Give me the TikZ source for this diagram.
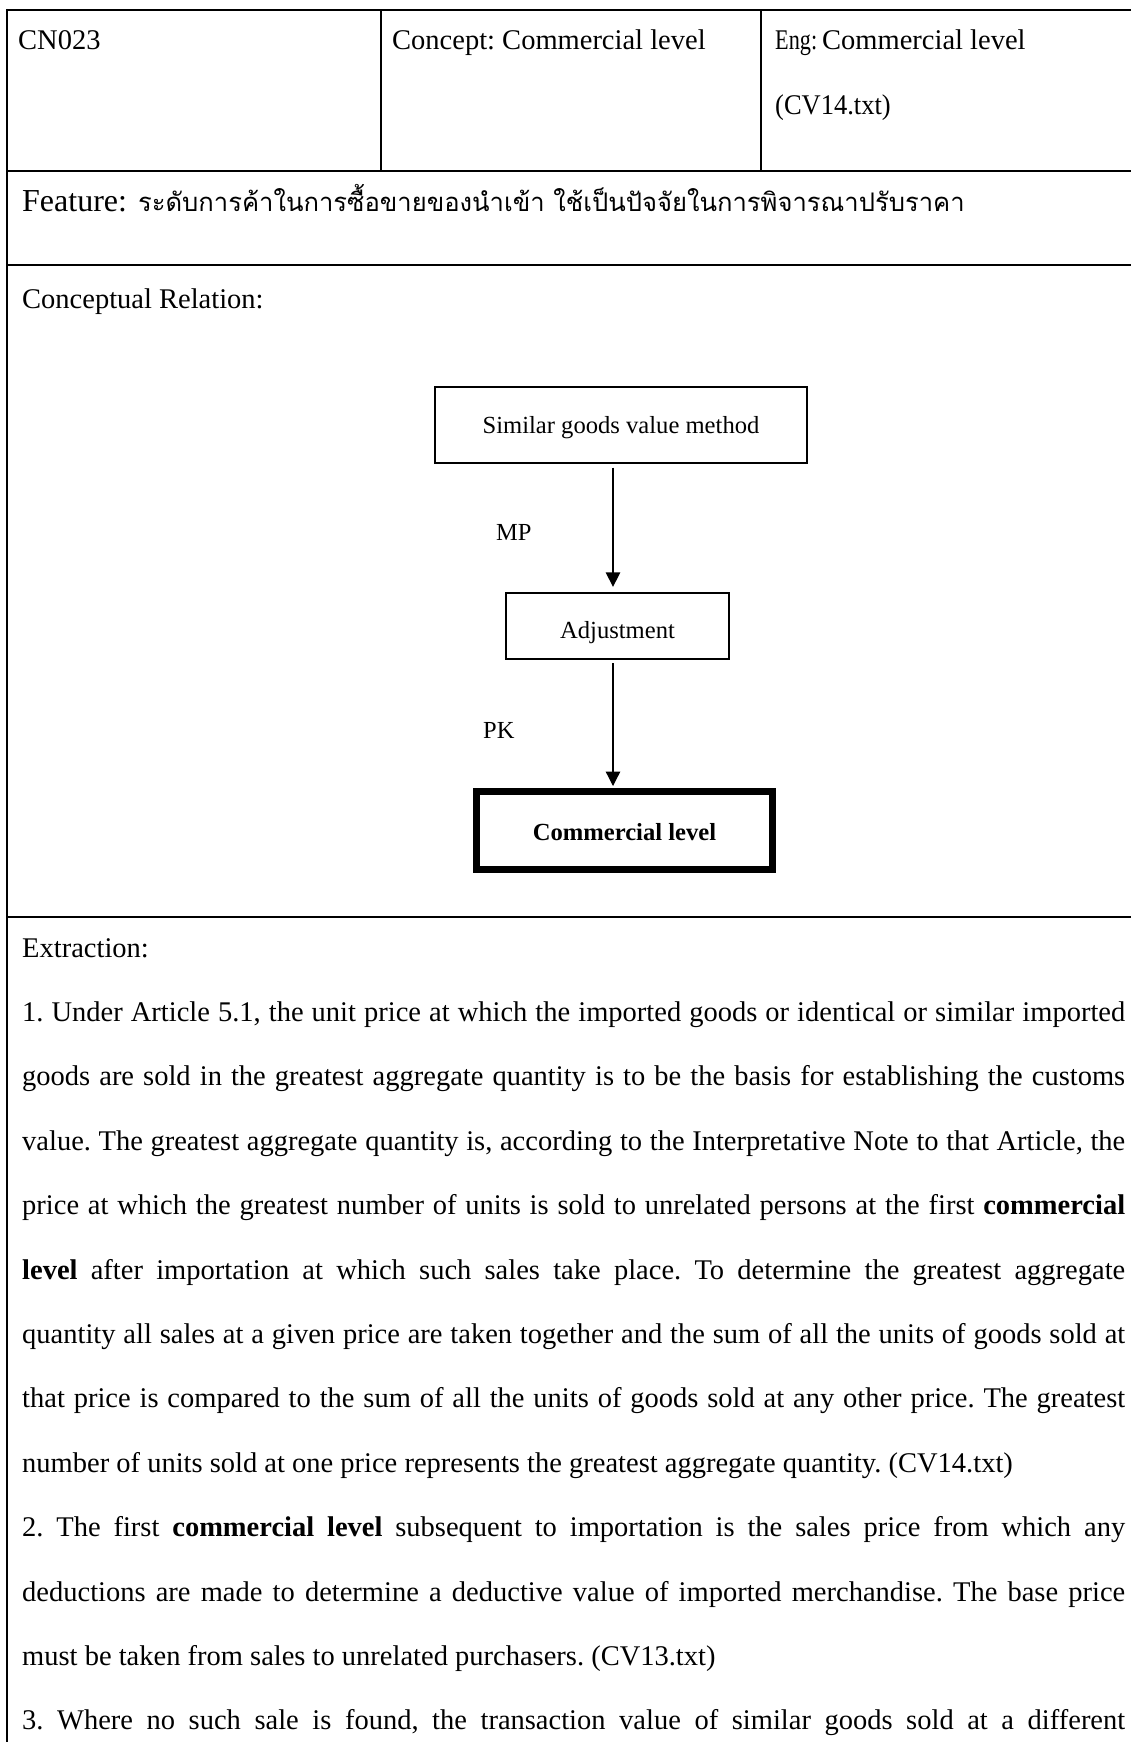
\documentclass[tikz,border=0pt]{standalone}
\usepackage{graphicx}
\usepackage{fontspec}
\setmainfont{Liberation Serif}
\newfontfamily\thaifont[Script=Thai]{Loma}
\usetikzlibrary{arrows.meta}
\frenchspacing

\begin{document}
\begin{tikzpicture}[x=1pt,y=-1pt,
  txt/.style={anchor=base west, inner sep=0pt, font=\fontsize{28.5}{34}\selectfont},
  lbl/.style={anchor=base west, inner sep=0pt, font=\fontsize{24.5}{26}\selectfont},
  box/.style={draw, line width=1.3pt, inner sep=0pt, text depth=0pt,
              font=\fontsize{24.6}{26}\selectfont},
  keybox/.style={box, line width=7pt, font=\fontsize{24.6}{26}\selectfont\bfseries},
  arr/.style={line width=1.3pt, -{Triangle[length=14.5pt,width=14.5pt]}},
  rule/.style={line width=1.5pt},
  thin/.style={line width=1.3pt}]

\useasboundingbox (0,0) rectangle (1131,1742);

% table frame
\draw[line width=2pt] (6,10) -- (1131,10);
\draw[rule] (7,9) -- (7,1742);
\draw[rule] (7,171) -- (1131,171);
\draw[rule] (7,265) -- (1131,265);
\draw[rule] (7,917) -- (1131,917);
\draw[thin] (381,10) -- (381,171);
\draw[thin] (761,10) -- (761,171);

% header cells
\node[txt] (id)   at (18,50)    {CN023};
\node[txt] (cpt)  at (392,50)   {Concept: Commercial level};
\node[txt] (eng)  at (775,50)   {\scalebox{0.78}[1]{Eng:}\hspace{5pt}Commercial level};
\node[txt] (src)  at (775,114.4){\scalebox{0.93}[1]{(CV14.txt)}};

% feature and section titles
\node[txt] (feat) at (22,211) {{\fontsize{32}{36}\selectfont Feature:}\hspace{11pt}{\thaifont\fontsize{25.6}{30}\selectfont ระดับการค้าในการซื้อขายของนำเข้า ใช้เป็นปัจจัยในการพิจารณาปรับราคา}};
\node[txt] (rel)  at (22,308) {Conceptual Relation:};

% relation diagram
\coordinate (ax) at (613,0);
\node[box, minimum width=372pt, minimum height=76pt, text height=16pt] (b1) at (621,425) {Similar goods value method};
\node[box, minimum width=223pt, minimum height=66pt, text height=24pt] (b2) at (617.5,626) {Adjustment};
\node[keybox, minimum width=296pt, minimum height=78pt, text height=19pt] (b3) at (624.5,830.5) {Commercial level};

\draw[arr, shorten <=4pt, shorten >=5.5pt] (b1.south -| ax) -- (b2.north -| ax);
\draw[arr, shorten <=3.5pt, shorten >=2pt] (b2.south -| ax) -- (b3.north -| ax);

\node[lbl] (mp) at (496,540) {MP};
\node[lbl] (pk) at (483,738) {PK};

% extraction text
\node[txt] (ext) at (22,957) {Extraction:};
\node[txt] (l1)  at (22,1021.4) {\makebox[1103pt][s]{1. Under Article 5.1, the unit price at which the imported goods or identical or similar imported}};
\node[txt] (l2)  at (22,1085.8) {\makebox[1103pt][s]{goods are sold in the greatest aggregate quantity is to be the basis for establishing the customs}};
\node[txt] (l3)  at (22,1150.2) {\makebox[1103pt][s]{value. The greatest aggregate quantity is, according to the Interpretative Note to that Article, the}};
\node[txt] (l4)  at (22,1214.6) {\makebox[1103pt][s]{price at which the greatest number of units is sold to unrelated persons at the first \textbf{commercial}}};
\node[txt] (l5)  at (22,1279.0) {\makebox[1103pt][s]{\textbf{level} after importation at which such sales take place. To determine the greatest aggregate}};
\node[txt] (l6)  at (22,1343.4) {\makebox[1103pt][s]{quantity all sales at a given price are taken together and the sum of all the units of goods sold at}};
\node[txt] (l7)  at (22,1407.8) {\makebox[1103pt][s]{that price is compared to the sum of all the units of goods sold at any other price. The greatest}};
\node[txt] (l8)  at (22,1472.2) {number of units sold at one price represents the greatest aggregate quantity. (CV14.txt)};
\node[txt] (l9)  at (22,1536.6) {\makebox[1103pt][s]{2. The first \textbf{commercial level} subsequent to importation is the sales price from which any}};
\node[txt] (l10) at (22,1601.0) {\makebox[1103pt][s]{deductions are made to determine a deductive value of imported merchandise. The base price}};
\node[txt] (l11) at (22,1665.4) {must be taken from sales to unrelated purchasers. (CV13.txt)};
\node[txt] (l12) at (22,1729.8) {\makebox[1103pt][s]{3. Where no such sale is found, the transaction value of similar goods sold at a different}};
\end{tikzpicture}
\end{document}
